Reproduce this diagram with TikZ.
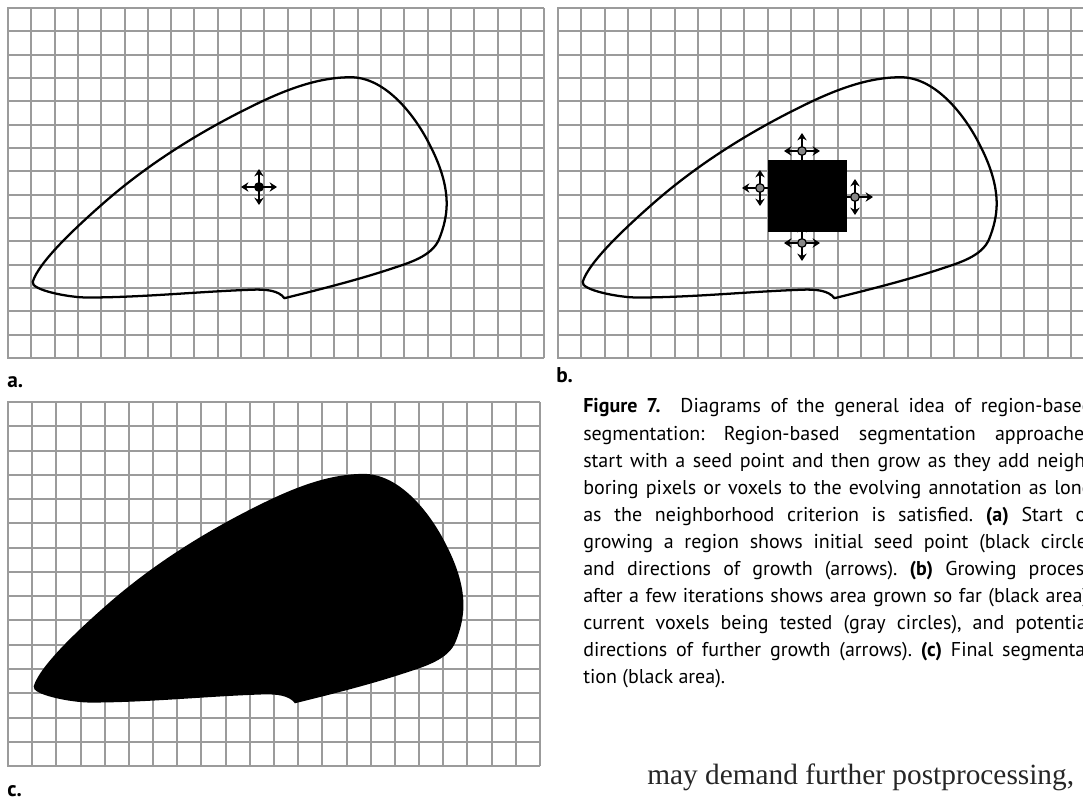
\documentclass[tikz,border=0pt]{standalone}
\usepackage{fontspec}
\usetikzlibrary{arrows.meta}
\newfontfamily\capfont{PT Sans}
\newfontfamily\bodyserif{Liberation Serif}
\definecolor{gridgray}{RGB}{155,155,155}
\definecolor{dotgray}{RGB}{135,135,135}
\newlength\capw
\setlength\capw{382pt}
\tikzset{
  gridline/.style={draw=gridgray, line width=1.5pt},
  outline/.style={draw=black, line width=1.7pt, line join=round},
  blobfill/.style={fill=black},
  growarrow/.style={-{Stealth[length=5.5pt,width=7pt,inset=1.8pt]}, line width=1.3pt, draw=black},
  icon/.pic={
    \draw[growarrow] (0,0) -- (0,-18);
    \draw[growarrow] (0,0) -- (0,18);
    \draw[growarrow] (0,0) -- (-18,0);
    \draw[growarrow] (0,0) -- (18,0);
    \filldraw[fill=#1, draw=black, line width=0.9pt] (0,0) circle[radius=4.3];
  },
  panellabel/.style={anchor=base west, inner sep=0, font=\capfont\bfseries\fontsize{16}{19}\selectfont},
}
\newcommand{\blobshape}[1]{%
  \path[#1] (11.86,12.45) .. controls (13.38,12.07) and (14.91,11.69) .. (16.4,11.2)
    .. controls (17.18,10.94) and (18.2,10.66) .. (18.5,9.9)
    .. controls (18.69,9.43) and (18.82,8.91) .. (18.82,8.4)
    .. controls (18.82,7.42) and (18.42,6.46) .. (17.95,5.6)
    .. controls (17.28,4.38) and (16.09,2.97) .. (14.7,2.97)
    .. controls (13.08,2.97) and (11.49,3.69) .. (10.05,4.42)
    .. controls (7.94,5.49) and (5.9,6.79) .. (4.12,8.35)
    .. controls (2.98,9.35) and (1.32,10.88) .. (1.06,11.75)
    .. controls (0.96,12.09) and (2.59,12.42) .. (3.4,12.42)
    .. controls (5.8,12.42) and (8.3,12.15) .. (10.65,12.08)
    .. controls (11.07,12.08) and (11.61,12.11) .. (11.86,12.45) -- cycle;}
\begin{document}
\begin{tikzpicture}[x=0.75pt, y=-0.75pt]
\useasboundingbox (0,0) rectangle (1083,800);
\fill[white] (0,0) rectangle (1083,800);
\clip (0,0) rectangle (1083,800);
% grids a and b
\foreach \ox in {8,558}{
  \foreach \i in {0,...,23} \draw[gridline] (\ox+\i*23.31,8) -- (\ox+\i*23.31,358);
  \foreach \j in {0,...,15} \draw[gridline] (\ox-1,8+\j*23.333) -- (\ox+536.2,8+\j*23.333);
}
% grid c
\foreach \i in {0,...,22} \draw[gridline] (8+\i*24.18,402) -- (8+\i*24.18,766);
\foreach \j in {0,...,15} \draw[gridline] (7,402+\j*24.27) -- (540,402+\j*24.27);
% shapes
\begin{scope}[shift={(8,8)}, scale=23.31]
  \blobshape{outline}
\end{scope}
\begin{scope}[shift={(558,8)}, scale=23.31]
  \blobshape{outline}
\end{scope}
\begin{scope}[shift={(8,402)}, scale=24.2]
  \blobshape{blobfill}
\end{scope}
% seed (a)
\pic (seed) at (259,187) {icon=black};
% growth (b)
\pic (gtop) at (802,151) {icon=dotgray};
\pic (gleft) at (760,188) {icon=dotgray};
\pic (gright) at (855,197) {icon=dotgray};
\pic (gbot) at (802,243) {icon=dotgray};
\fill[black] (768,160) rectangle (847,232);
% labels
\node[panellabel] (la) at (7,387) {a.};
\node[panellabel] (lb) at (556,382) {b.};
\node[panellabel] (lc) at (7,796) {c.};
% caption
\node[anchor=north west, inner sep=0, text width=\capw, align=justify,
      font=\capfont\fontsize{15}{20.3}\selectfont\frenchspacing] (caption) at (583,398.5) {%
\makebox[\capw][s]{\textbf{Figure 7.}\hspace{15pt}Diagrams of the general idea of region-based}\\
\makebox[\capw][s]{segmentation: Region-based segmentation approaches}\\
\makebox[\capw][s]{start with a seed point and then grow as they add neigh-}\\
\makebox[\capw][s]{boring pixels or voxels to the evolving annotation as long}\\
\makebox[\capw][s]{as the neighborhood criterion is satisfied. \textbf{(a)} Start of}\\
\makebox[\capw][s]{growing a region shows initial seed point (black circle)}\\
\makebox[\capw][s]{and directions of growth (arrows). \textbf{(b)} Growing process}\\
\makebox[\capw][s]{after a few iterations shows area grown so far (black area),}\\
\makebox[\capw][s]{current voxels being tested (gray circles), and potential}\\
\makebox[\capw][s]{directions of further growth (arrows). \textbf{(c)} Final segmenta-}\\
tion (black area).};
% body text
\node[anchor=base west, inner sep=0, font=\bodyserif\fontsize{22}{26}\selectfont, text=black!85] (body) at (647,784) {may demand further postprocessing,};
\end{tikzpicture}
\end{document}
